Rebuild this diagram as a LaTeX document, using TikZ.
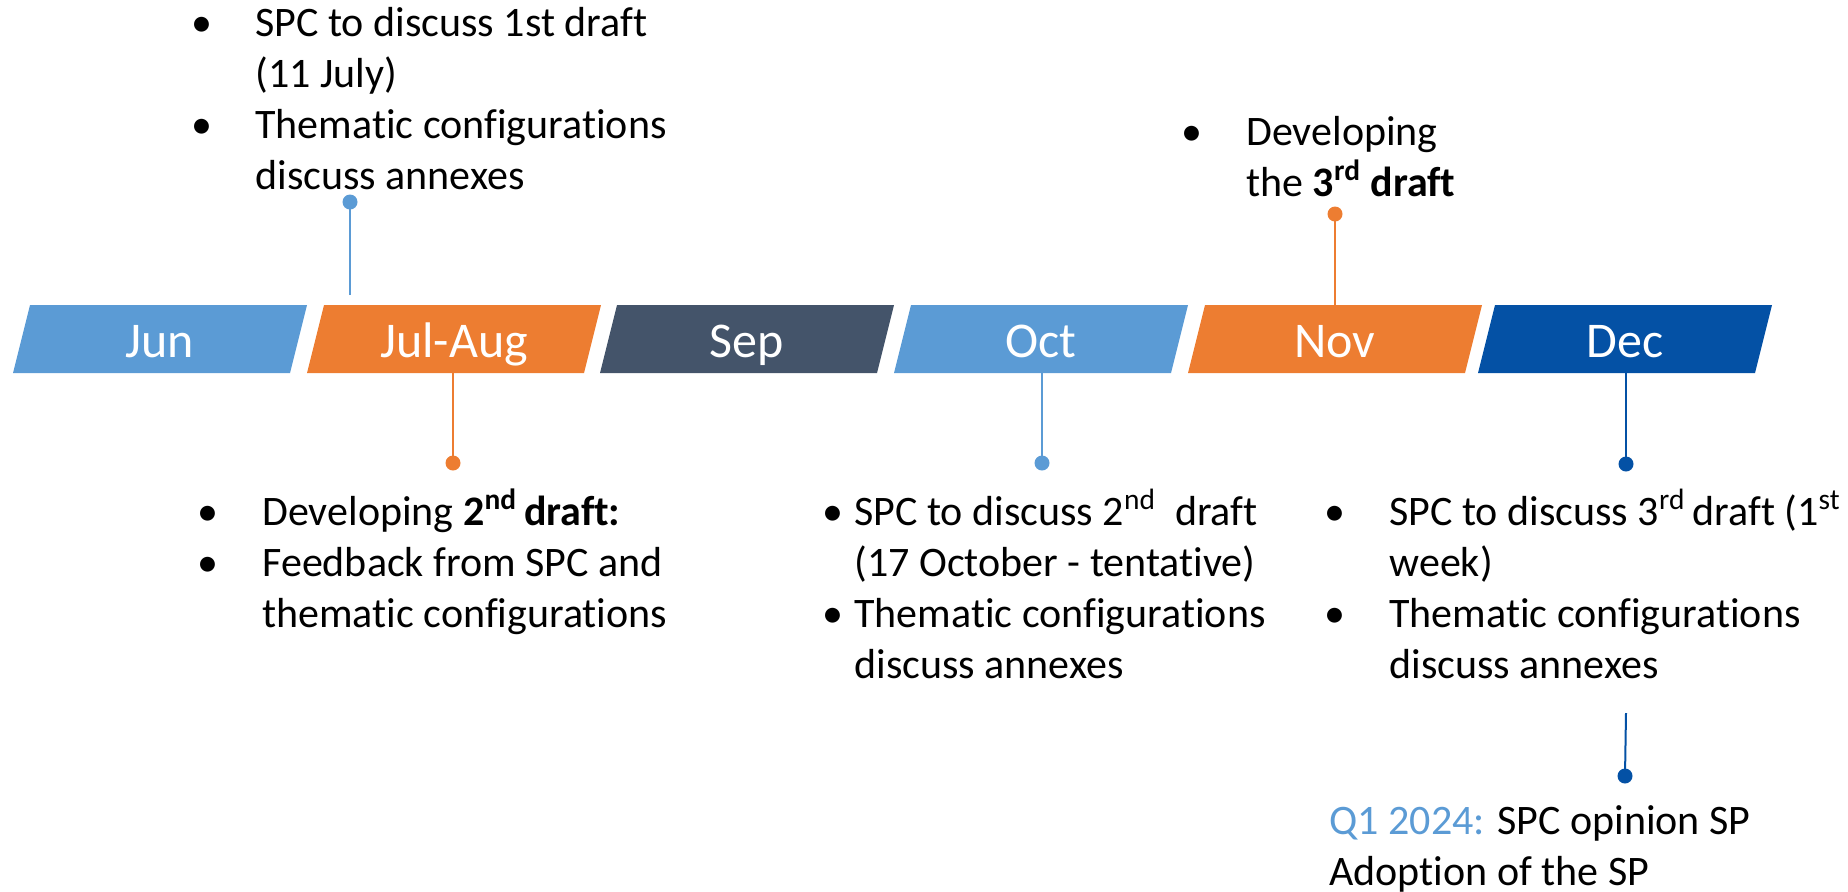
\documentclass[tikz,border=0pt]{standalone}
\usepackage{fontspec}
\setmainfont{Carlito}[Ligatures={NoCommon}]
\definecolor{lblue}{HTML}{5B9BD5}
\definecolor{orng}{HTML}{ED7D31}
\definecolor{slate}{HTML}{44546A}
\definecolor{dblue}{HTML}{0451A5}
\newcommand\bl[1]{\llap{\makebox[0pt][c]{•}\hspace{#1}}}
\newcommand\sups[1]{\smash{\textsuperscript{#1}}}
\tikzset{
  month/.style={text=white, font=\fontsize{25}{30}\selectfont, anchor=base, inner sep=0pt},
  txt/.style={font=\fontsize{21}{25.5}\selectfont, anchor=base west, inner sep=0pt, text=black},
  dot/.style={circle, fill=#1, inner sep=0pt, minimum size=7.5pt},
  conn/.style={draw=#1, line width=1pt},
}
% #1 colour, #2 bottom-left x, #3 name, #4 label
\newcommand\monthbar[4]{%
  \fill[#1] (#2,373) -- ++(277,0) -- ++(17,-68) -- ++(-277,0) -- cycle;
  \node[month] (#3) at ({#2+147},357) {#4};
}
\begin{document}
\begin{tikzpicture}[x=0.5pt,y=-0.5pt]
\useasboundingbox (0,0) rectangle (1848,891);

\monthbar{lblue}{13}{jun}{Jun}
\monthbar{orng}{307}{jul}{Jul-Aug}
\monthbar{slate}{600}{sep}{Sep}
\monthbar{lblue}{894}{oct}{Oct}
\monthbar{orng}{1188}{nov}{Nov}
\monthbar{dblue}{1478}{dec}{Dec}

% connector anchors
\coordinate (julTop) at (350,295);
\coordinate (julBot) at (453,373);
\coordinate (octBot) at (1042,373);
\coordinate (novTop) at (1335,305);
\coordinate (decBot) at (1626,373);
\coordinate (decLow) at (1626,713);

% dots
\node[dot=lblue] (d1) at (350,202) {};
\node[dot=orng]  (d2) at (453,463) {};
\node[dot=lblue] (d3) at (1042,463) {};
\node[dot=orng]  (d4) at (1335,214) {};
\node[dot=dblue] (d5) at (1626,464) {};
\node[dot=dblue] (d6) at (1625,776) {};

\draw[conn=lblue] (julTop) -- (d1.center);
\draw[conn=orng]  (julBot) -- (d2.center);
\draw[conn=lblue] (octBot) -- (d3.center);
\draw[conn=orng]  (novTop) -- (d4.center);
\draw[conn=dblue] (decBot) -- (d5.center);
\draw[conn=dblue] (decLow) -- (d6.center);

% texts
\node[txt] (t1) at (255,36) {\begin{tabular}[t]{@{}l@{}}
\bl{26.5pt}SPC to discuss 1st draft\\
(11 July)\\
\bl{26.5pt}Thematic configurations\\
discuss annexes
\end{tabular}};

\node[txt] (t2) at (1246,145) {\begin{tabular}[t]{@{}l@{}}
\bl{27pt}Developing\\
the \textbf{3\sups{rd} draft}
\end{tabular}};

\node[txt] (t3) at (262,525) {\begin{tabular}[t]{@{}l@{}}
\bl{27pt}Developing \textbf{2\sups{nd}\,draft:}\\
\bl{27pt}Feedback from SPC and\\
thematic configurations
\end{tabular}};

\node[txt] (t4) at (854,525) {\begin{tabular}[t]{@{}l@{}}
\bl{10.5pt}SPC to discuss 2\sups{nd}\ \ draft\\
(17 October - tentative)\\
\bl{10.5pt}Thematic configurations\\
discuss annexes
\end{tabular}};

\node[txt] (t5) at (1389,525) {\begin{tabular}[t]{@{}l@{}}
\bl{27pt}SPC to discuss 3\sups{rd}\,draft (1\sups{st}\\
week)\\
\bl{27pt}Thematic configurations\\
discuss annexes
\end{tabular}};

\node[txt] (t6) at (1329,834) {\begin{tabular}[t]{@{}l@{}}
{\color{lblue}Q1 2024:} SPC opinion SP\\
Adoption of the SP
\end{tabular}};
\end{tikzpicture}
\end{document}
